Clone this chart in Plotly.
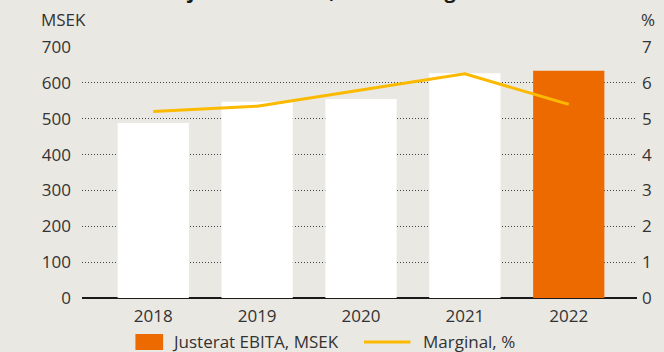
import plotly.graph_objects as go

# Data
years = ["2018", "2019", "2020", "2021", "2022"]
ebita_msek = [488, 547, 555, 627, 634]
margin_pct = [5.2, 5.35, 5.8, 6.25, 5.4]
left_ticks = [0, 100, 200, 300, 400, 500, 600, 700]
right_ticks = [0, 1, 2, 3, 4, 5, 6, 7]

BG = "#eae8e3"
ORANGE = "#ec6a00"
GOLD = "#fbba00"
TEXT = "#333333"
FONT = "Open Sans"

fig = go.Figure()

# earlier years in white, latest year highlighted
fig.add_trace(go.Bar(
    x=years[:-1], y=ebita_msek[:-1], marker=dict(color="#ffffff", line=dict(width=0)),
    width=0.686, showlegend=False, hoverinfo="skip"))
fig.add_trace(go.Bar(
    x=years[-1:], y=ebita_msek[-1:], marker=dict(color=ORANGE, line=dict(width=0)),
    width=0.686, name="Justerat EBITA, MSEK", showlegend=False))

fig.add_trace(go.Scatter(
    x=years, y=margin_pct, yaxis="y2", mode="lines",
    line=dict(color=GOLD, width=3), name="Marginal, %", showlegend=False))

fig.update_layout(
    width=664, height=352,
    margin=dict(l=82, r=21, t=47, b=54),
    paper_bgcolor=BG, plot_bgcolor=BG,
    barmode="overlay",
    font=dict(family=FONT, size=17, color=TEXT),
    xaxis=dict(
        type="category", range=[-0.686, 4.657],
        showgrid=False, showline=False, zeroline=False,
        ticks="", ticklabelstandoff=6,
        tickfont=dict(family=FONT, size=17, color=TEXT),
    ),
    yaxis=dict(
        range=[0, 700], tickvals=left_ticks,
        showgrid=True, gridcolor="#444444", gridwidth=1, griddash="1px,2px",
        zeroline=True, zerolinecolor="#1a1a1a", zerolinewidth=1.5,
        showline=False, ticks="", ticklabelstandoff=10,
        tickfont=dict(family=FONT, size=17, color=TEXT),
    ),
    yaxis2=dict(
        range=[0, 7], tickvals=right_ticks, overlaying="y", side="right",
        showgrid=False, zeroline=False, showline=False, ticks="",
        ticklabelstandoff=4,
        tickfont=dict(family=FONT, size=17, color=TEXT),
    ),
)

# axis unit labels
fig.add_annotation(text="MSEK", xref="paper", yref="paper", x=-0.077, y=1.108,
                   xanchor="left", yanchor="middle", showarrow=False,
                   font=dict(family=FONT, size=17, color=TEXT))
fig.add_annotation(text="%", xref="paper", yref="paper", x=1.036, y=1.108,
                   xanchor="right", yanchor="middle", showarrow=False,
                   font=dict(family=FONT, size=17, color=TEXT))

# heading above the chart
fig.add_annotation(text="<b>Koncernens justerat EBITA, EBITA-marginal</b>",
                   xref="paper", yref="paper", x=(63 - 82) / 561, y=1.165,
                   xanchor="left", yanchor="bottom", showarrow=False,
                   font=dict(family=FONT, size=20, color="#1a1a1a"))

# legend drawn as shapes + labels
def px_x(p):
    return (p - 82) / 561

def px_y(p):
    return (298 - p) / 251

fig.add_shape(type="rect", xref="paper", yref="paper",
              x0=px_x(136), x1=px_x(164), y0=px_y(350), y1=px_y(334),
              fillcolor=ORANGE, line=dict(width=0))
fig.add_annotation(text="Justerat EBITA, MSEK", xref="paper", yref="paper",
                   x=px_x(171), y=px_y(341), xanchor="left", yanchor="middle",
                   showarrow=False, font=dict(family=FONT, size=17, color=TEXT))
fig.add_shape(type="line", xref="paper", yref="paper",
              x0=px_x(367), x1=px_x(414), y0=px_y(342), y1=px_y(342),
              line=dict(color=GOLD, width=3))
fig.add_annotation(text="Marginal, %", xref="paper", yref="paper",
                   x=px_x(425), y=px_y(341), xanchor="left", yanchor="middle",
                   showarrow=False, font=dict(family=FONT, size=17, color=TEXT))

fig.write_html("out.html")
